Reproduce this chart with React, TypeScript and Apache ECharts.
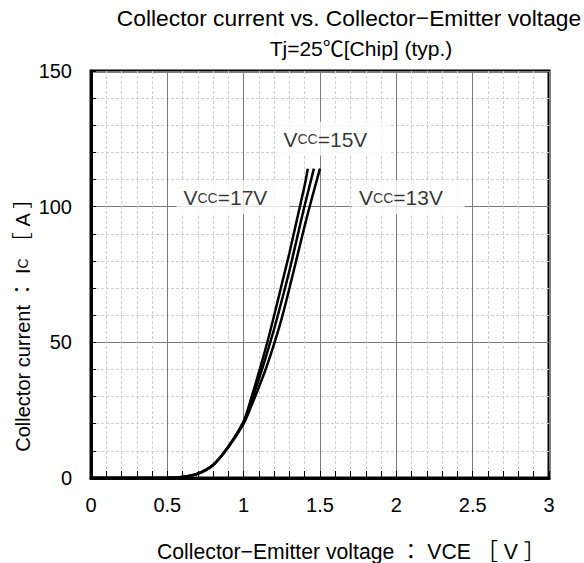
import React, { useEffect, useRef } from "react";
import * as echarts from "echarts";

// ---- data ----
const vce17 = [0, 0.3, 0.5, 0.6, 0.7, 0.8, 0.9, 1.0, 1.05, 1.1, 1.15, 1.2, 1.25, 1.3, 1.35, 1.4, 1.42];
const ic17 = [0, 0, 0.05, 0.4, 1.6, 4.8, 11.6, 21, 29.5, 39, 49, 60, 71.5, 83, 95.5, 108, 114];

const vce15 = [0, 0.3, 0.5, 0.6, 0.7, 0.8, 0.9, 1.0, 1.05, 1.1, 1.15, 1.2, 1.25, 1.3, 1.35, 1.4, 1.46];
const ic15 = [0, 0, 0.05, 0.4, 1.6, 4.8, 11.5, 20.5, 28, 36.5, 45.5, 55, 65.5, 76.5, 88.5, 100.5, 114];

const vce13 = [0, 0.3, 0.5, 0.6, 0.7, 0.8, 0.9, 1.0, 1.05, 1.1, 1.15, 1.2, 1.25, 1.3, 1.35, 1.4, 1.45, 1.5];
const ic13 = [0, 0, 0.05, 0.4, 1.6, 4.8, 11.4, 20, 26.5, 33.5, 41, 49.5, 59, 70, 81.5, 93, 103.8, 114];

const seriesNames = ["Vcc=17V", "Vcc=15V", "Vcc=13V"];
const labelSuffix = ["=17V", "=15V", "=13V"];
const labelX = [0.56, 1.215, 1.71];
const labelY = [103.5, 125, 103.5];

const xTicks = [0, 0.5, 1, 1.5, 2, 2.5, 3];
const yTicks = [0, 50, 100, 150];

const titleLine1 = "Collector current vs. Collector\u2212Emitter voltage";
const titleLine2 = "Tj=25\u2103[Chip] (typ.)";
const xName = "Collector\u2212Emitter voltage \uFF1A VCE \uFF3B V \uFF3D";

const FONT = "'Liberation Sans', Arial, 'Noto Sans CJK JP', sans-serif";

function zip(xs: number[], ys: number[]) {
  return xs.map((x, i) => [x, ys[i]]);
}

export default function App() {
  const ref = useRef<HTMLDivElement>(null);
  useEffect(() => {
    if (!ref.current) return;
    const chart = echarts.init(ref.current, undefined, { renderer: "svg" });
    const curves = [zip(vce17, ic17), zip(vce15, ic15), zip(vce13, ic13)];
    const option: any = {
      animation: false,
      backgroundColor: "#fff",
      grid: {
        left: 91,
        right: 35,
        top: 71,
        bottom: 85,
        show: true,
        borderColor: "#000",
        borderWidth: 3,
        backgroundColor: "transparent",
      },
      xAxis: {
        type: "value",
        min: xTicks[0],
        max: xTicks[xTicks.length - 1],
        interval: 0.5,
        axisLine: { show: true, lineStyle: { color: "#000", width: 3 } },
        axisTick: { show: true, inside: true, length: 7, lineStyle: { color: "#000", width: 1 } },
        minorTick: { show: true, splitNumber: 5, length: 7, lineStyle: { color: "#000", width: 1 } },
        splitLine: { show: true, lineStyle: { color: "#7a7a7a", width: 1 } },
        minorSplitLine: { show: true, lineStyle: { color: "#cfcfcf", width: 1, type: [3, 2] } },
        axisLabel: {
          color: "#000",
          fontSize: 20,
          fontFamily: FONT,
          margin: 17,
          formatter: (v: number) => String(v),
        },
      },
      yAxis: {
        type: "value",
        min: yTicks[0],
        max: yTicks[yTicks.length - 1],
        interval: 50,
        axisLine: { show: true, lineStyle: { color: "#000", width: 3 } },
        axisTick: { show: true, inside: true, length: 5, lineStyle: { color: "#000", width: 1 } },
        minorTick: { show: true, splitNumber: 5, length: 5, lineStyle: { color: "#000", width: 1 } },
        splitLine: { show: true, lineStyle: { color: "#7a7a7a", width: 1 } },
        minorSplitLine: { show: true, lineStyle: { color: "#cfcfcf", width: 1, type: [3, 2] } },
        axisLabel: {
          color: "#000",
          fontSize: 20,
          fontFamily: FONT,
          margin: 19,
        },
      },
      series: [
        ...curves.map((d, i) => ({
          name: seriesNames[i],
          type: "line",
          data: d,
          smooth: 0.3,
          showSymbol: false,
          symbol: "none",
          z: 5,
          lineStyle: { color: "#000", width: 2.5 },
        })),
        {
          name: "labels",
          type: "scatter",
          z: 3,
          symbolSize: 0,
          silent: true,
          data: labelX.map((x, i) => ({
            value: [x, labelY[i]],
            label: {
              show: true,
              position: "right",
              distance: 0,
              formatter: "{v|V}{s|CC}{v|" + labelSuffix[i] + "}",
              backgroundColor: "#fff",
              padding: [7, 22, 6, 7],
              rich: {
                v: { fontSize: 21, fontFamily: FONT, color: "#000" },
                s: { fontSize: 14, fontFamily: FONT, color: "#000" },
              },
            },
          })),
        },
      ],
      graphic: [
        {
          type: "text",
          x: 349,
          y: 18,
          style: {
            text: titleLine1,
            fontSize: 22.8,
            fontFamily: FONT,
            fill: "#000",
            align: "center",
            verticalAlign: "middle",
          },
        },
        {
          type: "text",
          x: 361,
          y: 48,
          style: {
            text: titleLine2,
            fontSize: 21,
            fontFamily: FONT,
            fill: "#000",
            align: "center",
            verticalAlign: "middle",
          },
        },
        {
          type: "text",
          x: 351,
          y: 551,
          style: {
            text: xName,
            fontSize: 21.2,
            fontFamily: FONT,
            fill: "#000",
            align: "center",
            verticalAlign: "middle",
          },
        },
        {
          type: "text",
          x: 23,
          y: 320,
          rotation: Math.PI / 2,
          style: {
            text: "{n|Collector current \uFF1A I}{s|C}{n| \uFF3B A \uFF3D}",
            fontFamily: FONT,
            fill: "#000",
            align: "center",
            verticalAlign: "middle",
            rich: {
              n: { fontSize: 20, fontFamily: FONT, fill: "#000" },
              s: { fontSize: 14, fontFamily: FONT, fill: "#000" },
            },
          },
        },
      ],
    };
    chart.setOption(option);
    return () => chart.dispose();
  }, []);
  return <div ref={ref} style={{ width: 584, height: 563, position: "absolute", left: 0, top: 0 }} />;
}
